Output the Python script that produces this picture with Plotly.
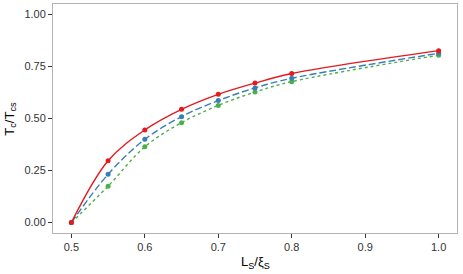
import plotly.graph_objects as go

x_vals = [0.5, 0.55, 0.6, 0.65, 0.7, 0.75, 0.8, 1.0]
red_vals = [0.0, 0.297, 0.445, 0.544, 0.616, 0.670, 0.716, 0.826]
blue_vals = [0.0, 0.232, 0.400, 0.509, 0.586, 0.647, 0.693, 0.813]
green_vals = [0.0, 0.175, 0.364, 0.480, 0.563, 0.627, 0.677, 0.804]

x_ticks = [0.5, 0.6, 0.7, 0.8, 0.9, 1.0]
x_ticklabels = ["0.5", "0.6", "0.7", "0.8", "0.9", "1.0"]
y_ticks = [0.0, 0.25, 0.5, 0.75, 1.0]
y_ticklabels = ["0.00", "0.25", "0.50", "0.75", "1.00"]

series = [
    (green_vals, "#4DAF4A", "3px,3px"),
    (blue_vals, "#377EB8", "7px,3px"),
    (red_vals, "#E41A1C", "solid"),
]

FONT = "Liberation Sans, Arial, sans-serif"

fig = go.Figure()
for vals, color, dash in series:
    fig.add_trace(go.Scatter(
        x=x_vals, y=vals, mode="lines+markers",
        line=dict(color=color, width=1.4, dash=dash, shape="spline", smoothing=1.0),
        marker=dict(color=color, size=5),
        showlegend=False,
    ))

axis_common = dict(
    showgrid=False, zeroline=False, showline=True, linecolor="#b3b3b3", linewidth=1,
    mirror=True, ticks="outside", ticklen=4, tickcolor="#333333", tickwidth=1,
    tickfont=dict(family=FONT, size=11, color="#333333"), automargin=False,
)

fig.update_layout(
    width=463, height=274,
    margin=dict(l=53, r=6, t=4, b=41),
    paper_bgcolor="white", plot_bgcolor="white",
    xaxis=dict(range=[0.475, 1.025], tickvals=x_ticks, ticktext=x_ticklabels, **axis_common),
    yaxis=dict(range=[-0.05, 1.05], tickvals=y_ticks, ticktext=y_ticklabels, **axis_common),
    annotations=[
        dict(text="L<sub>S</sub>/ξ<sub>S</sub>", xref="paper", yref="paper",
             x=0.5, y=-0.127, xanchor="center", yanchor="middle", showarrow=False,
             font=dict(family=FONT, size=13, color="#000000")),
        dict(text="T<sub>c</sub>/T<sub>cs</sub>", xref="paper", yref="paper",
             x=-0.106, y=0.5, xanchor="center", yanchor="middle", showarrow=False,
             textangle=-90, font=dict(family=FONT, size=13, color="#000000")),
    ],
)

fig.write_html("out.html", config={"displayModeBar": False},
               post_script="document.body.style.margin='0';")
